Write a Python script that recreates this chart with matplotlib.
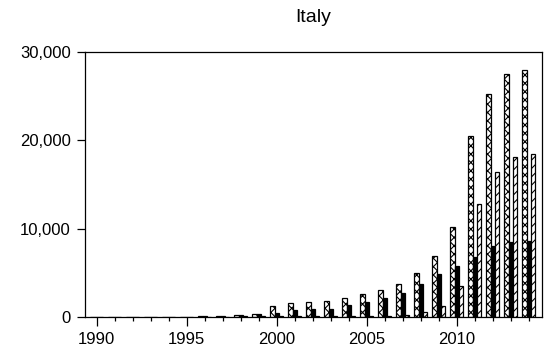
import matplotlib
matplotlib.use("Agg")
import matplotlib.pyplot as plt
import matplotlib.ticker as mticker
import numpy as np

plt.rcParams['font.family'] = ['Liberation Sans', 'DejaVu Sans']
plt.rcParams['hatch.linewidth'] = 0.8

years = list(range(1990, 2015))
series_cross = [0, 0, 0, 0, 0, 20, 60, 110, 200, 300, 1250, 1550, 1670, 1780, 2080,
                2580, 3000, 3700, 5000, 6900, 10150, 20450, 25300, 27500, 28000]
series_black = [0, 0, 0, 0, 0, 10, 40, 90, 170, 250, 450, 720, 830, 900, 1300,
                1700, 2120, 2700, 3750, 4850, 5800, 6750, 8000, 8450, 8600]
series_diag = [0, 0, 0, 0, 0, 0, 10, 20, 30, 40, 60, 70, 80, 80, 90,
               100, 100, 200, 500, 1200, 3500, 12800, 16400, 18100, 18500]
title = "Italy"

fig = plt.figure(figsize=(5.47, 3.54), dpi=100)
ax = fig.add_axes([85/547, (354-316.7)/354, (541.7-85)/547, (316.7-52.3)/354])

x = np.array(years, dtype=float)
w = 0.245
ax.bar(x - w, series_cross, width=w, color='white', edgecolor='black', hatch='xxxx', linewidth=0.9)
ax.bar(x, series_black, width=w, color='black', edgecolor='black', linewidth=0.9)
ax.bar(x + w, series_diag, width=w, color='white', edgecolor='black', hatch='////', linewidth=0.9)

ax.set_xlim(1989.35, 2014.72)
ax.set_ylim(0, 30000)
ax.xaxis.set_major_locator(mticker.FixedLocator([1990, 1995, 2000, 2005, 2010]))
ax.xaxis.set_minor_locator(mticker.MultipleLocator(1))
ax.yaxis.set_major_locator(mticker.FixedLocator([0, 10000, 20000, 30000]))
ax.yaxis.set_major_formatter(mticker.FuncFormatter(lambda v, p: f"{int(v):,}"))
ax.tick_params(axis='x', which='major', direction='out', length=6.2, width=0.9, labelsize=12, pad=4.5)
ax.tick_params(axis='x', which='minor', direction='out', length=3.1, width=0.9)
ax.tick_params(axis='y', which='major', direction='out', length=5.8, width=0.9, labelsize=12, pad=4.5)
for s in ax.spines.values():
    s.set_linewidth(0.9)

fig.text((85 + 541.7) / 2 / 547, 1 - 17/354, title, ha='center', va='center', fontsize=14)

fig.savefig("out.png", dpi=100)
